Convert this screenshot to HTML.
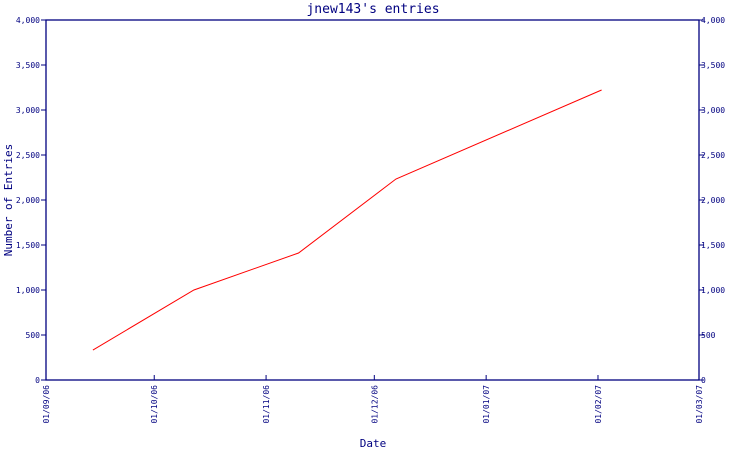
<!DOCTYPE html>
<html><head><meta charset="utf-8"><style>
body{margin:0;background:#fff}
svg text{font-family:"DejaVu Sans Mono","Liberation Mono",monospace;fill:#000080}
</style></head><body>
<svg width="750" height="450" xmlns="http://www.w3.org/2000/svg">
<text x="373" y="13" text-anchor="middle" font-size="13">jnew143's entries</text>
<text x="373" y="447" text-anchor="middle" font-size="11">Date</text>
<text transform="translate(12,200) rotate(-90)" text-anchor="middle" font-size="11">Number of Entries</text>
<g id="axes"></g>
<g id="marks"></g>
</svg>
<script>
const yTicks=[0,500,1000,1500,2000,2500,3000,3500,4000];
const yTickLabels=["0","500","1,000","1,500","2,000","2,500","3,000","3,500","4,000"];
const xTickDates=["2006-09-01","2006-10-01","2006-11-01","2006-12-01","2007-01-01","2007-02-01","2007-03-01"];
const xTickLabels=["01/09/06","01/10/06","01/11/06","01/12/06","01/01/07","01/02/07","01/03/07"];
const pointDates=["2006-09-14","2006-10-12","2006-11-10","2006-12-07","2007-02-02"];
const pointValues=[333,1000,1411,2233,3222];

const L=46,R=699,T=20,B=380;
const t0=Date.parse("2006-09-01"),t1=Date.parse("2007-03-01");
const xs=d=>L+(Date.parse(d)-t0)/(t1-t0)*(R-L);
const ys=v=>B-v/4000*(B-T);
const NS="http://www.w3.org/2000/svg";
const axes=document.getElementById('axes'),marks=document.getElementById('marks');
function mk(tag,attrs,parent){const e=document.createElementNS(NS,tag);for(const k in attrs)e.setAttribute(k,attrs[k]);parent.appendChild(e);return e;}
const frame=mk('rect',{x:L,y:T,width:R-L,height:B-T,fill:'none',stroke:'#000080','stroke-width':1.3},axes);


yTicks.forEach((v,i)=>{
  const y=ys(v);
  const tl=mk('line',{x1:L-5,x2:L,y1:y,y2:y,stroke:'#000080'},axes);
  
  
  const tr=mk('line',{x1:R,x2:R+5,y1:y,y2:y,stroke:'#000080'},axes);
  
  
  const a=mk('text',{x:L-6,y:y+3,'text-anchor':'end','font-size':8},axes);a.textContent=yTickLabels[i];
  
  
  const b=mk('text',{x:R+2,y:y+3,'font-size':8},axes);b.textContent=yTickLabels[i];
  
  
});
xTickDates.forEach((d,i)=>{
  const x=xs(d);
  const tk=mk('line',{x1:x,x2:x,y1:B-5,y2:B,stroke:'#000080'},axes);
  
  
  const tx=mk('text',{transform:`translate(${x+3},${B+5}) rotate(-90)`,'text-anchor':'end','font-size':8},axes);
  tx.textContent=xTickLabels[i];
  
  
});
const pts=pointDates.map((d,i)=>xs(d)+','+ys(pointValues[i])).join(' ');
const line=mk('polyline',{points:pts,fill:'none',stroke:'#ff0000','stroke-width':1},marks);


</script>
</body></html>
